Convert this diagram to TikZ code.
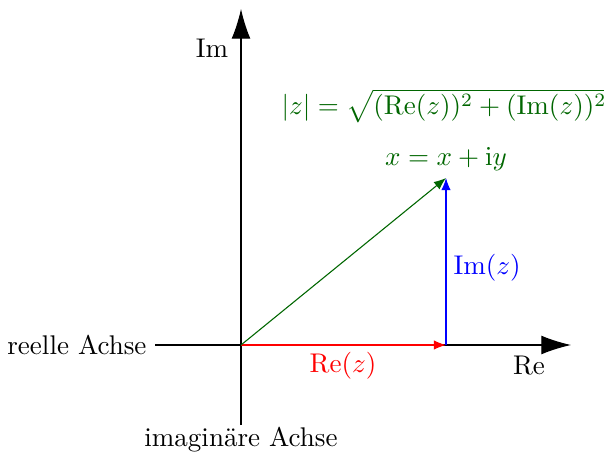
\documentclass[tikz,border=0pt]{standalone}
\usetikzlibrary{arrows.meta}
\begin{document}
\begin{tikzpicture}[x=0.37pt,y=-0.37pt,
  axis/.style={line width=0.4pt,-{Latex[length=11pt,width=7pt]}},
  vec/.style={line width=0.4pt,-{Latex[length=4.5pt,width=3.5pt]}},
  lbl/.style={inner sep=0pt}]
\useasboundingbox (0,0) rectangle (604,453);
\coordinate (o) at (241,345);
\coordinate (xs) at (155,345);
\coordinate (xe) at (571,345);
\coordinate (ys) at (241,425);
\coordinate (ye) at (241,9);
\coordinate (p) at (446,345);
\coordinate (z) at (446,178);
\draw[axis] (xs) -- (xe);
\draw[axis] (ys) -- (ye);
\draw[vec,red] (o) -- (p);
\draw[vec,blue] (p) -- (z);
\draw[vec,green!40!black] (o) -- (z);
\node[lbl,anchor=east] (ra) at (147,345) {reelle Achse};
\node[lbl] (ia) at (241,440) {imagin\"are Achse};
\node[lbl] (im) at (212,48) {Im};
\node[lbl] (re) at (529,366) {Re};
\node[lbl,red] (rez) at (343,366) {$\mathrm{Re}(z)$};
\node[lbl,blue,anchor=west] (imz) at (453,268) {$\mathrm{Im}(z)$};
\node[lbl,green!40!black] (abs) at (444,106) {$|z|=\sqrt{(\mathrm{Re}(z))^2+(\mathrm{Im}(z))^2}$};
\node[lbl,green!40!black] (zz) at (446,159) {$x=x+\mathrm{i}y$};
\end{tikzpicture}
\end{document}
